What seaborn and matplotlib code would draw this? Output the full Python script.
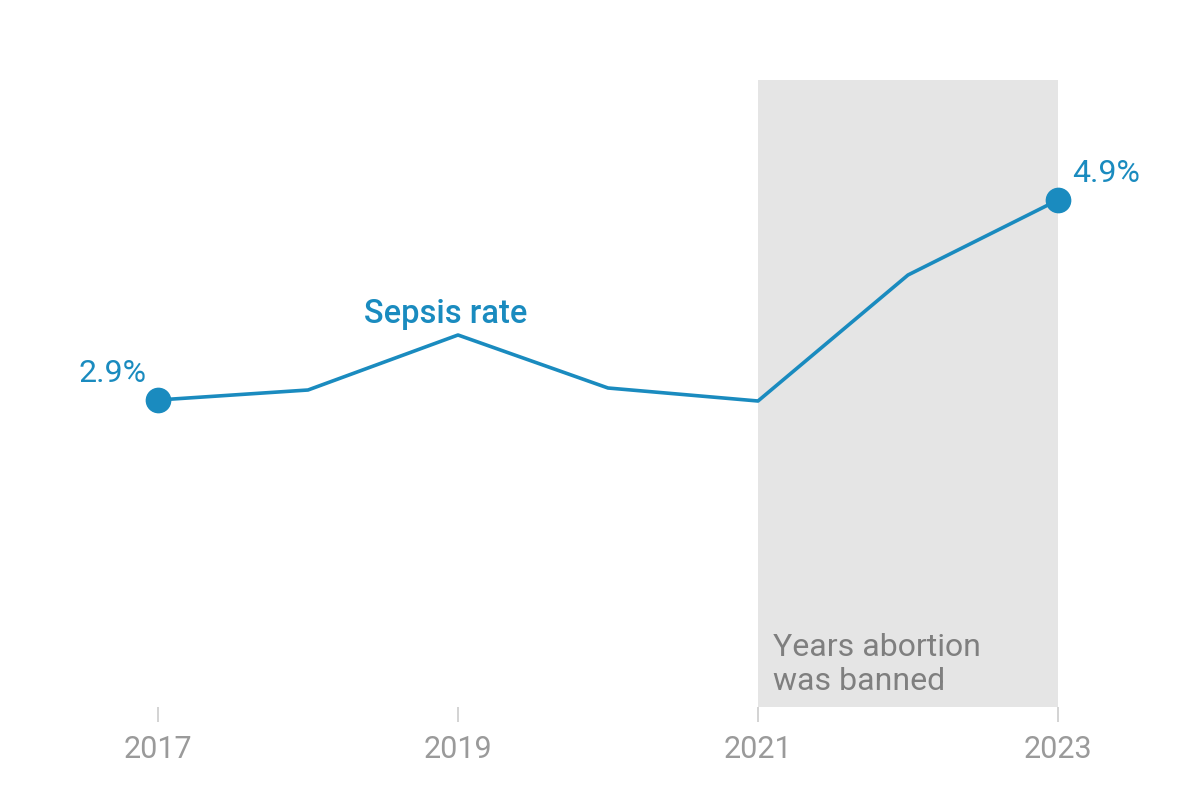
import matplotlib.pyplot as plt
import pandas as pd
import seaborn as sns

years = [2017, 2018, 2019, 2020, 2021, 2022, 2023]
sepsis_rate = [2.9, 3.0, 3.55, 3.02, 2.89, 4.15, 4.9]
tick_years = [2017, 2019, 2021, 2023]
ban_start, ban_end = 2021, 2023

BLUE = "#1a8bbf"
GRAY_TXT = "#9a9a9a"

df = pd.DataFrame({"year": years, "rate": sepsis_rate})

sns.set_theme(style="white")
plt.rcParams["font.family"] = ["Roboto", "DejaVu Sans"]

fig = plt.figure(figsize=(12, 8), dpi=100)
ax = fig.add_axes([0, 0.11625, 1, 0.88375])

# shaded ban period
ax.axvspan(ban_start, ban_end, ymin=0, ymax=(707 - 80) / 707, color="#e5e5e5", lw=0, zorder=0)

sns.lineplot(data=df, x="year", y="rate", color=BLUE, lw=2.6, ax=ax, zorder=3)
ends = df.iloc[[0, -1]]
ax.plot(ends["year"], ends["rate"], "o", color=BLUE, ms=17.5, zorder=4)

ax.set_xlim(2017 - 158 / 150, 2017 - 158 / 150 + 8)
ax.set_ylim(2.9 - 3.07, 2.9 + 4.0)

ax.text(df["year"].iloc[0] - 0.3, df["rate"].iloc[0] + 0.27, "2.9%", color=BLUE,
        fontsize=23, ha="center", va="center")
ax.text(df["year"].iloc[-1] + 0.32, df["rate"].iloc[-1] + 0.26, "4.9%", color=BLUE,
        fontsize=23, ha="center", va="center")
ax.text(2019 - 0.08, 3.76, "Sepsis rate", color=BLUE, fontsize=23.5, fontweight="medium",
        ha="center", va="center")
ax.text(ban_start + 0.1, -0.06, "Years abortion\nwas banned", color="#7f7f7f",
        fontsize=23, ha="left", va="bottom", linespacing=1.2)

ax.set_xticks(tick_years)
ax.set_xticklabels([str(y) for y in tick_years])
ax.set_yticks([])
ax.tick_params(axis="x", direction="out", length=11, width=1.2, color="#cccccc",
               labelcolor=GRAY_TXT, labelsize=22, pad=9, bottom=True)
ax.set_xlabel("")
ax.set_ylabel("")
sns.despine(ax=ax, left=True, bottom=True)

fig.savefig("out.png", dpi=100)
